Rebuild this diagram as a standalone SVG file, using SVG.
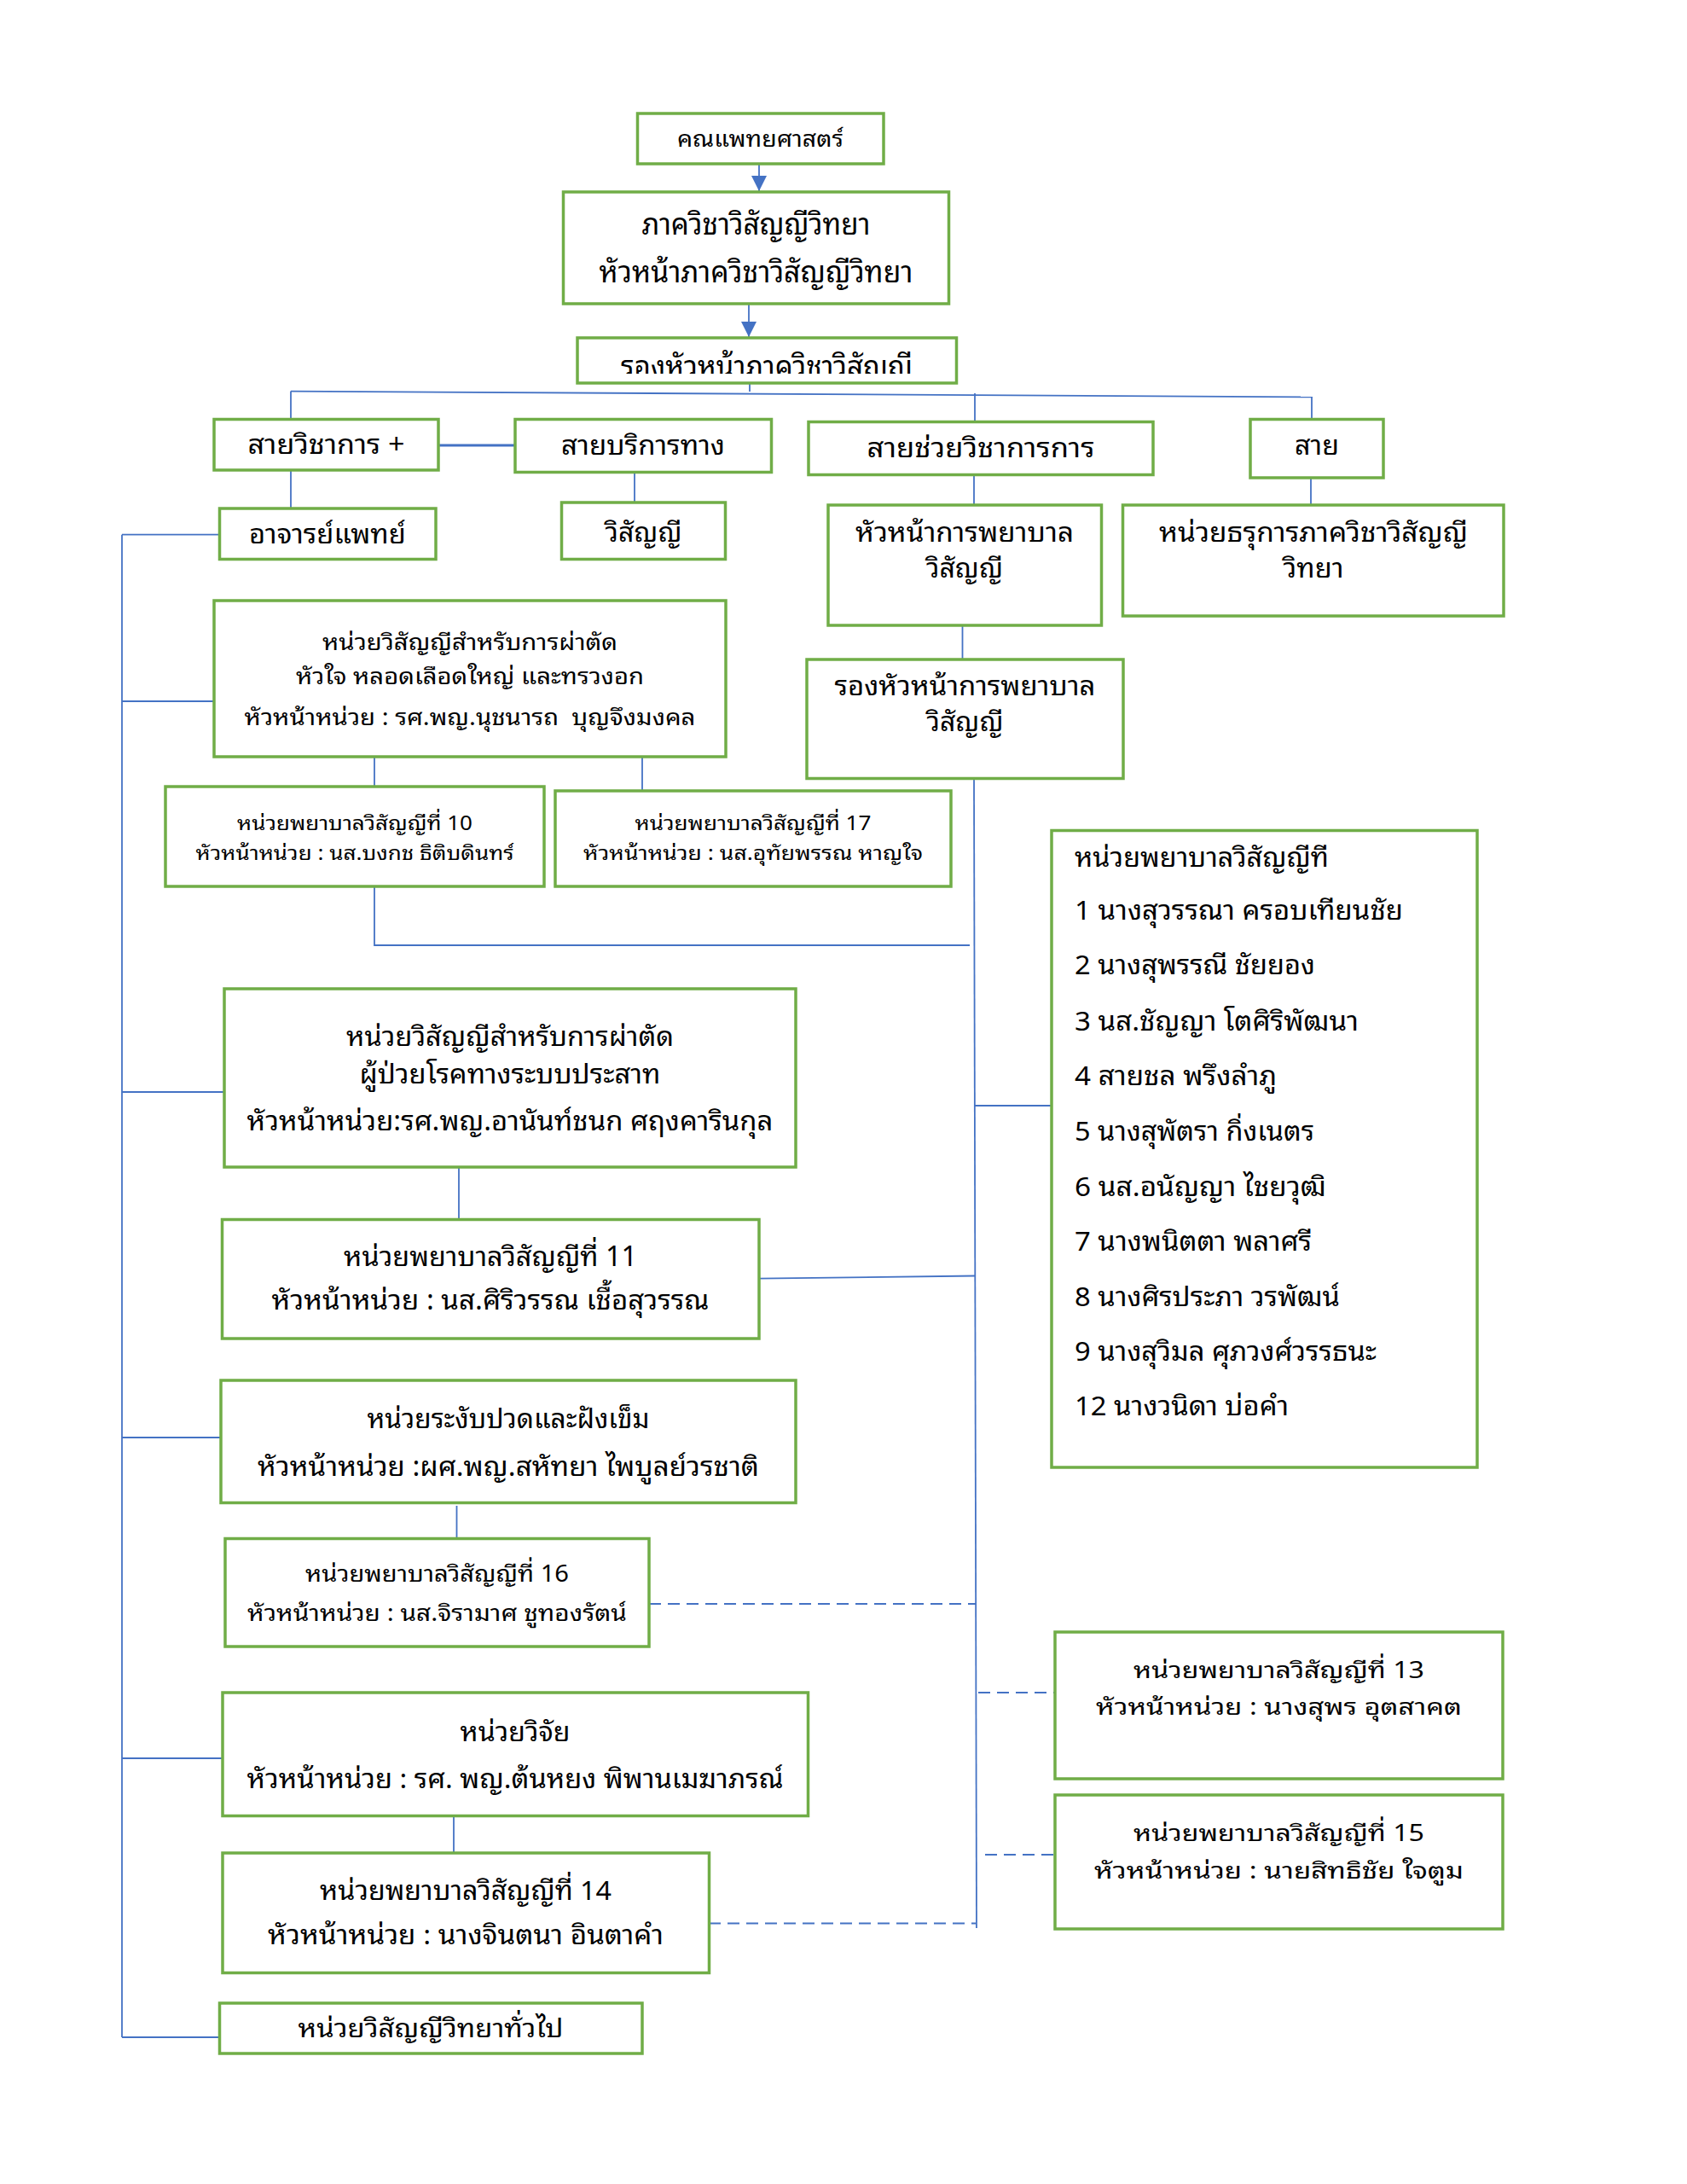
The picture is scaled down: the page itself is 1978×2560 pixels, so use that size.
<svg xmlns="http://www.w3.org/2000/svg" width="1978" height="2560" viewBox="0 0 1978 2560">
<style>
.box{fill:#fff;stroke:#70AD47;stroke-width:3.5}
.ln{fill:none;stroke:#4472C4;stroke-width:1.8}
.dl{fill:none;stroke:#4472C4;stroke-width:1.8;stroke-dasharray:14 8}
.t{font-family:"Noto Sans Thai Looped","Noto Sans Thai","Noto Sans","DejaVu Sans",sans-serif;text-anchor:middle;fill:#000}
.l{font-family:"Noto Sans Thai Looped","Noto Sans Thai","Noto Sans","DejaVu Sans",sans-serif;fill:#000;font-size:31px}
</style>
<defs>
<marker id="ah" markerWidth="18" markerHeight="18" refX="18" refY="9" orient="auto" markerUnits="userSpaceOnUse">
<path d="M0,0 L18,9 L0,18 z" fill="#4472C4"/>
</marker>
<clipPath id="cc"><rect x="677" y="396" width="445" height="42"/></clipPath>
</defs>
<rect width="1978" height="2560" fill="#fff"/>
<g id="connectors">
<line class="ln" x1="890" y1="192" x2="890" y2="224" marker-end="url(#ah)"/>
<line class="ln" x1="878" y1="356" x2="878" y2="395" marker-end="url(#ah)"/>
<line class="ln" x1="879" y1="449" x2="879" y2="459"/>
<line class="ln" x1="341" y1="458.6" x2="1539" y2="465.4"/>
<line class="ln" x1="341" y1="458.6" x2="341" y2="491"/>
<line class="ln" x1="1143" y1="461" x2="1143" y2="494"/>
<line class="ln" x1="1538" y1="466" x2="1538" y2="491"/>
<line class="ln" x1="514" y1="522" x2="604" y2="522" style="stroke-width:3"/>
<line class="ln" x1="341" y1="551" x2="341" y2="596"/>
<line class="ln" x1="744" y1="554" x2="744" y2="589"/>
<line class="ln" x1="1142" y1="557" x2="1142" y2="592"/>
<line class="ln" x1="1537" y1="560" x2="1537" y2="592"/>
<line class="ln" x1="1128.5" y1="733" x2="1128.5" y2="772"/>
<line class="ln" x1="143" y1="626.7" x2="143" y2="2388"/>
<line class="ln" x1="143" y1="626.7" x2="258" y2="626.7"/>
<line class="ln" x1="143" y1="822" x2="251" y2="822"/>
<line class="ln" x1="143" y1="1280" x2="264" y2="1280"/>
<line class="ln" x1="143" y1="1685" x2="259" y2="1685"/>
<line class="ln" x1="143" y1="2061" x2="261" y2="2061"/>
<line class="ln" x1="143" y1="2388" x2="258" y2="2388"/>
<line class="ln" x1="439" y1="887" x2="439" y2="922"/>
<line class="ln" x1="753" y1="887" x2="753" y2="927"/>
<polyline class="ln" points="439,1039 439,1108 1137,1108"/>
<line class="ln" x1="1142" y1="912" x2="1145" y2="2260"/>
<line class="ln" x1="1143" y1="1296" x2="1233" y2="1296"/>
<line class="ln" x1="538" y1="1368" x2="538" y2="1429"/>
<line class="ln" x1="890" y1="1498.6" x2="1143.7" y2="1495.5"/>
<line class="ln" x1="535.5" y1="1765" x2="535.5" y2="1807"/>
<line class="dl" x1="761" y1="1880" x2="1144" y2="1880"/>
<line class="dl" x1="1147" y1="1984" x2="1237" y2="1984"/>
<line class="dl" x1="1155" y1="2174" x2="1237" y2="2174"/>
<line class="ln" x1="532" y1="2129" x2="532" y2="2172"/>
<line class="dl" x1="831" y1="2254.5" x2="1144" y2="2254.5"/>
</g>
<g id="nA"><rect class="box" x="747.5" y="133" width="288.5" height="59"/>
<text class="t" x="891.5" y="172" font-size="27" textLength="195" lengthAdjust="spacingAndGlyphs">คณแพทยศาสตร์</text></g>
<g id="nB"><rect class="box" x="660.5" y="225" width="452" height="131"/>
<text class="t" x="886.5" y="275" font-size="35" textLength="268" lengthAdjust="spacingAndGlyphs">ภาควิชาวิสัญญีวิทยา</text>
<text class="t" x="886.5" y="331" font-size="35" textLength="368" lengthAdjust="spacingAndGlyphs">หัวหน้าภาควิชาวิสัญญีวิทยา</text></g>
<g id="nC"><rect class="box" x="677" y="396" width="444.5" height="53"/>
<text class="t" x="899" y="443" font-size="36" textLength="342" lengthAdjust="spacingAndGlyphs" clip-path="url(#cc)">รองหัวหน้าภาควิชาวิสัญญี</text></g>
<g id="nD"><rect class="box" x="251" y="491.5" width="263" height="59.5"/>
<text class="t" x="382.5" y="532" font-size="32" textLength="184" lengthAdjust="spacingAndGlyphs">สายวิชาการ +</text></g>
<g id="nE"><rect class="box" x="604" y="491.5" width="300.5" height="62"/>
<text class="t" x="754" y="533" font-size="32" textLength="192" lengthAdjust="spacingAndGlyphs">สายบริการทาง</text></g>
<g id="nF"><rect class="box" x="948" y="494.5" width="404" height="62"/>
<text class="t" x="1150" y="536" font-size="32" textLength="267" lengthAdjust="spacingAndGlyphs">สายช่วยวิชาการการ</text></g>
<g id="nG"><rect class="box" x="1466" y="491.5" width="156" height="68.5"/>
<text class="t" x="1544" y="533" font-size="32" textLength="52" lengthAdjust="spacingAndGlyphs">สาย</text></g>
<g id="nH"><rect class="box" x="257.5" y="596" width="253.5" height="59.5"/>
<text class="t" x="384" y="637" font-size="32" textLength="184" lengthAdjust="spacingAndGlyphs">อาจารย์แพทย์</text></g>
<g id="nI"><rect class="box" x="658.5" y="589" width="192" height="66.5"/>
<text class="t" x="754.5" y="635" font-size="32" textLength="90" lengthAdjust="spacingAndGlyphs">วิสัญญี</text></g>
<g id="nJ"><rect class="box" x="971" y="592" width="320.5" height="141"/>
<text class="t" x="1131" y="635" font-size="31" textLength="256" lengthAdjust="spacingAndGlyphs">หัวหน้าการพยาบาล</text>
<text class="t" x="1131" y="677" font-size="31" textLength="90" lengthAdjust="spacingAndGlyphs">วิสัญญี</text></g>
<g id="nK"><rect class="box" x="1316.5" y="592" width="446.5" height="130"/>
<text class="t" x="1540" y="635" font-size="31" textLength="362" lengthAdjust="spacingAndGlyphs">หน่วยธรุการภาควิชาวิสัญญี</text>
<text class="t" x="1540" y="677" font-size="31" textLength="71" lengthAdjust="spacingAndGlyphs">วิทยา</text></g>
<g id="nL"><rect class="box" x="251" y="704" width="600" height="183"/>
<text class="t" x="551" y="762" font-size="27" textLength="346" lengthAdjust="spacingAndGlyphs">หน่วยวิสัญญีสำหรับการผ่าตัด</text>
<text class="t" x="551" y="802" font-size="27" textLength="408" lengthAdjust="spacingAndGlyphs">หัวใจ หลอดเลือดใหญ่ และทรวงอก</text>
<text class="t" x="551" y="850" font-size="27" textLength="529" lengthAdjust="spacingAndGlyphs" xml:space="preserve">หัวหน้าหน่วย : รศ.พญ.นุชนารถ  บุญจึงมงคล</text></g>
<g id="nM"><rect class="box" x="946" y="773" width="371" height="139.5"/>
<text class="t" x="1131.5" y="815" font-size="31" textLength="306" lengthAdjust="spacingAndGlyphs">รองหัวหน้าการพยาบาล</text>
<text class="t" x="1131.5" y="857" font-size="31" textLength="90" lengthAdjust="spacingAndGlyphs">วิสัญญี</text></g>
<g id="nN"><rect class="box" x="194" y="922" width="444" height="117"/>
<text class="t" x="416" y="973" font-size="23.5" textLength="276" lengthAdjust="spacingAndGlyphs">หน่วยพยาบาลวิสัญญีที่ 10</text>
<text class="t" x="416" y="1008" font-size="23.5" textLength="373" lengthAdjust="spacingAndGlyphs">หัวหน้าหน่วย : นส.บงกช ธิติบดินทร์</text></g>
<g id="nO"><rect class="box" x="651" y="927" width="464" height="112"/>
<text class="t" x="883" y="973" font-size="23.5" textLength="277" lengthAdjust="spacingAndGlyphs">หน่วยพยาบาลวิสัญญีที่ 17</text>
<text class="t" x="883" y="1008" font-size="23.5" textLength="398" lengthAdjust="spacingAndGlyphs">หัวหน้าหน่วย : นส.อุทัยพรรณ หาญใจ</text></g>
<g id="nP"><rect class="box" x="1233" y="973.5" width="499" height="746.5"/>
<text class="l" x="1260" y="1016" textLength="298" lengthAdjust="spacingAndGlyphs">หน่วยพยาบาลวิสัญญีที</text>
<text class="l" x="1260" y="1078" textLength="385" lengthAdjust="spacingAndGlyphs">1 นางสุวรรณา ครอบเทียนชัย</text>
<text class="l" x="1260" y="1142" textLength="282" lengthAdjust="spacingAndGlyphs">2 นางสุพรรณี ชัยยอง</text>
<text class="l" x="1260" y="1207.5" textLength="333" lengthAdjust="spacingAndGlyphs">3 นส.ชัญญา โตศิริพัฒนา</text>
<text class="l" x="1260" y="1272" textLength="237" lengthAdjust="spacingAndGlyphs">4 สายชล พรึงลำภู</text>
<text class="l" x="1260" y="1337" textLength="281" lengthAdjust="spacingAndGlyphs">5 นางสุพัตรา กิ่งเนตร</text>
<text class="l" x="1260" y="1401.5" textLength="295" lengthAdjust="spacingAndGlyphs">6 นส.อนัญญา ไชยวุฒิ</text>
<text class="l" x="1260" y="1466" textLength="278" lengthAdjust="spacingAndGlyphs">7 นางพนิตตา พลาศรี</text>
<text class="l" x="1260" y="1530.5" textLength="311" lengthAdjust="spacingAndGlyphs">8 นางศิรประภา วรพัฒน์</text>
<text class="l" x="1260" y="1595" textLength="354" lengthAdjust="spacingAndGlyphs">9 นางสุวิมล ศุภวงศ์วรรธนะ</text>
<text class="l" x="1260" y="1659" textLength="251" lengthAdjust="spacingAndGlyphs">12 นางวนิดา บ่อคำ</text></g>
<g id="nQ"><rect class="box" x="263" y="1159" width="670" height="209"/>
<text class="t" x="598" y="1226" font-size="32" textLength="384" lengthAdjust="spacingAndGlyphs">หน่วยวิสัญญีสำหรับการผ่าตัด</text>
<text class="t" x="598" y="1270" font-size="32" textLength="353" lengthAdjust="spacingAndGlyphs">ผู้ป่วยโรคทางระบบประสาท</text>
<text class="t" x="598" y="1325" font-size="32" textLength="617" lengthAdjust="spacingAndGlyphs">หัวหน้าหน่วย:รศ.พญ.อานันท์ชนก ศฤงคารินกุล</text></g>
<g id="nR"><rect class="box" x="260.5" y="1429.5" width="629.5" height="139.5"/>
<text class="t" x="575" y="1484" font-size="32" textLength="344" lengthAdjust="spacingAndGlyphs">หน่วยพยาบาลวิสัญญีที่ 11</text>
<text class="t" x="575" y="1535" font-size="32" textLength="513" lengthAdjust="spacingAndGlyphs">หัวหน้าหน่วย : นส.ศิริวรรณ เชื้อสุวรรณ</text></g>
<g id="nS"><rect class="box" x="259" y="1618" width="674" height="143.5"/>
<text class="t" x="596" y="1674" font-size="32" textLength="331" lengthAdjust="spacingAndGlyphs">หน่วยระงับปวดและฝังเข็ม</text>
<text class="t" x="596" y="1729.5" font-size="32" textLength="588" lengthAdjust="spacingAndGlyphs">หัวหน้าหน่วย :ผศ.พญ.สหัทยา ไพบูลย์วรชาติ</text></g>
<g id="nT"><rect class="box" x="264" y="1803.5" width="497" height="126.5"/>
<text class="t" x="512.5" y="1853.5" font-size="27" textLength="309" lengthAdjust="spacingAndGlyphs">หน่วยพยาบาลวิสัญญีที่ 16</text>
<text class="t" x="512.5" y="1899.5" font-size="27" textLength="445" lengthAdjust="spacingAndGlyphs">หัวหน้าหน่วย : นส.จิรามาศ ชูทองรัตน์</text></g>
<g id="nU"><rect class="box" x="261" y="1984" width="686.5" height="144.5"/>
<text class="t" x="604" y="2041" font-size="31" textLength="129" lengthAdjust="spacingAndGlyphs">หน่วยวิจัย</text>
<text class="t" x="604" y="2096" font-size="31" textLength="629" lengthAdjust="spacingAndGlyphs">หัวหน้าหน่วย : รศ. พญ.ต้นหยง พิพานเมฆาภรณ์</text></g>
<g id="nV"><rect class="box" x="261" y="2172" width="570.5" height="140.5"/>
<text class="t" x="546" y="2227" font-size="31" textLength="342" lengthAdjust="spacingAndGlyphs">หน่วยพยาบาลวิสัญญีที่ 14</text>
<text class="t" x="546" y="2279" font-size="31" textLength="464" lengthAdjust="spacingAndGlyphs">หัวหน้าหน่วย : นางจินตนา อินตาคำ</text></g>
<g id="nW"><rect class="box" x="257.5" y="2348" width="495.5" height="59"/>
<text class="t" x="505" y="2388" font-size="30" textLength="311" lengthAdjust="spacingAndGlyphs">หน่วยวิสัญญีวิทยาทั่วไป</text></g>
<g id="nX"><rect class="box" x="1237" y="1913" width="525" height="172"/>
<text class="t" x="1499.5" y="1967" font-size="27" textLength="341" lengthAdjust="spacingAndGlyphs">หน่วยพยาบาลวิสัญญีที่ 13</text>
<text class="t" x="1499.5" y="2010" font-size="27" textLength="429" lengthAdjust="spacingAndGlyphs">หัวหน้าหน่วย : นางสุพร อุตสาคต</text></g>
<g id="nY"><rect class="box" x="1237" y="2104" width="525" height="157"/>
<text class="t" x="1499.5" y="2158" font-size="27" textLength="341" lengthAdjust="spacingAndGlyphs">หน่วยพยาบาลวิสัญญีที่ 15</text>
<text class="t" x="1499.5" y="2202" font-size="27" textLength="433" lengthAdjust="spacingAndGlyphs">หัวหน้าหน่วย : นายสิทธิชัย ใจตูม</text></g>
</svg>
